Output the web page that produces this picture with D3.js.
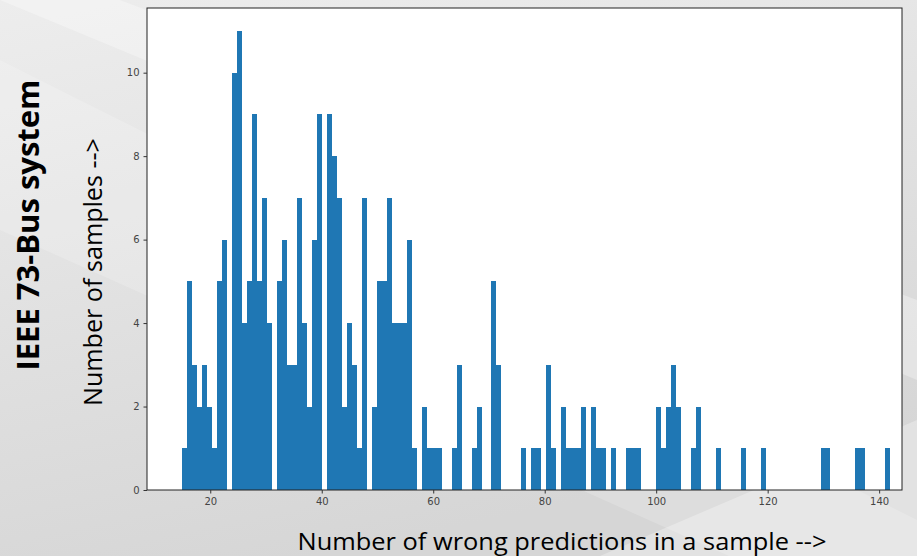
<!DOCTYPE html>
<html>
<head>
<meta charset="utf-8">
<script src="https://cdn.jsdelivr.net/npm/d3@7"></script>
<style>
  body { margin: 0; overflow: hidden; }
  svg { display: block; }
</style>
</head>
<body>
<div id="chart"></div>
<script>
// number of wrong predictions (first value) and how many samples had each count
const firstWrong = 15;
const sampleCounts = [
  1, 5, 3, 2, 3, 2, 1, 5, 6, 10,   // 15-24
  11, 4, 5, 9, 5, 7, 4, 5, 6, 3,   // 25-34
  3, 7, 4, 2, 6, 9, 9, 8, 7, 2,    // 35-44
  4, 3, 1, 7, 2, 5, 5, 7, 4, 4,    // 45-54
  4, 6, 1, 2, 1, 1, 1, 0, 0, 1,    // 55-64
  3, 0, 1, 2, 0, 0, 5, 3, 0, 0,    // 65-74
  0, 1, 0, 1, 1, 0, 3, 1, 2, 1,    // 75-84
  1, 1, 2, 0, 2, 1, 1, 1, 0, 0,    // 85-94
  1, 1, 1, 0, 0, 2, 1, 2, 3, 2,    // 95-104
  0, 0, 1, 2, 0, 0, 1, 0, 0, 0,    // 105-114
  0, 1, 0, 0, 1, 0, 0, 0, 0, 0,    // 115-124
  0, 0, 0, 0, 0, 1, 1, 0, 0, 0,    // 125-134
  0, 1, 1, 0, 0, 0, 0, 1           // 135-142
];
const binCount = 142;
const xTicks = [20, 40, 60, 80, 100, 120, 140];
const yTicks = [0, 2, 4, 6, 8, 10];

const width = 917, height = 556;
const plot = {left: 147, right: 902, top: 8, bottom: 490};

const svg = d3.select('#chart').append('svg')
  .attr('width', width)
  .attr('height', height);

// slide background
const defs = svg.append('defs');
const bg = defs.append('linearGradient')
  .attr('id', 'bg')
  .attr('x1', '0').attr('y1', '0')
  .attr('x2', '0.35').attr('y2', '1');
bg.append('stop').attr('offset', '0%').attr('stop-color', '#ededed');
bg.append('stop').attr('offset', '100%').attr('stop-color', '#d6d6d6');

svg.append('rect')
  .attr('width', width)
  .attr('height', height)
  .attr('fill', 'url(#bg)');

const bands = [
  [[0, 0], [120, 0], [917, 300], [917, 380]],
  [[0, 60], [0, 230], [917, 640], [917, 520]],
  [[600, 556], [917, 420], [917, 556]]
];
svg.selectAll('.band').data(bands).join('polygon')
  .attr('class', 'band')
  .attr('points', d => d.map(p => p.join(',')).join(' '))
  .attr('fill', '#ffffff')
  .attr('opacity', (d, i) => i === 1 ? 0.18 : 0.3);

// histogram, same binning as the original plt.hist call
const samples = [];
sampleCounts.forEach((c, i) => {
  for (let k = 0; k < c; k++) samples.push(firstWrong + i);
});
const lo = firstWrong, hi = firstWrong + sampleCounts.length - 1;
const binWidth = (hi - lo) / binCount;
const bins = d3.bin()
  .domain([lo, hi])
  .thresholds(d3.range(1, binCount).map(i => lo + i * binWidth))(samples);

const x = d3.scaleLinear()
  .domain([lo - 0.05 * (hi - lo), 144.1])
  .range([plot.left, plot.right]);
const y = d3.scaleLinear()
  .domain([0, 11 * 1.05])
  .range([plot.bottom, plot.top]);

const g = svg.append('g');

g.append('rect')
  .attr('x', plot.left)
  .attr('y', plot.top)
  .attr('width', plot.right - plot.left)
  .attr('height', plot.bottom - plot.top)
  .attr('fill', '#ffffff');

// crisp edges so neighbouring bins join without seams
g.selectAll('.bar')
  .data(bins.filter(b => b.length > 0))
  .join('rect')
  .attr('class', 'bar')
  .attr('x', d => x(d.x0))
  .attr('y', d => y(d.length))
  .attr('width', d => x(d.x1) - x(d.x0))
  .attr('height', d => y(0) - y(d.length))
  .attr('fill', '#1f77b4')
  .attr('shape-rendering', 'crispEdges');

// frame
g.append('rect')
  .attr('x', plot.left)
  .attr('y', plot.top)
  .attr('width', plot.right - plot.left)
  .attr('height', plot.bottom - plot.top)
  .attr('fill', 'none')
  .attr('stroke', '#222')
  .attr('stroke-width', 1);

const xAxis = g.append('g')
  .attr('transform', 'translate(0,' + plot.bottom + ')')
  .call(d3.axisBottom(x).tickValues(xTicks).tickSize(3.5).tickPadding(4));
const yAxis = g.append('g')
  .attr('transform', 'translate(' + plot.left + ',0)')
  .call(d3.axisLeft(y).tickValues(yTicks).tickSize(3.5).tickPadding(4));

[xAxis, yAxis].forEach(a => {
  a.select('.domain').remove();
  a.selectAll('line').attr('stroke', '#333');
  a.selectAll('text')
    .attr('fill', '#444')
    .style('font-family', '"DejaVu Sans", sans-serif')
    .style('font-size', '10px');
});

// slide texts
svg.append('text')
  .attr('transform', 'translate(39,225) rotate(-90)')
  .attr('text-anchor', 'middle')
  .attr('textLength', 291)
  .attr('lengthAdjust', 'spacingAndGlyphs')
  .style('font-family', '"Open Sans", sans-serif')
  .style('font-weight', 'bold')
  .style('font-size', '30px')
  .attr('fill', '#000')
  .text('IEEE 73-Bus system');

svg.append('text')
  .attr('transform', 'translate(102,272) rotate(-90)')
  .attr('text-anchor', 'middle')
  .attr('textLength', 268)
  .attr('lengthAdjust', 'spacingAndGlyphs')
  .style('font-family', '"Open Sans", sans-serif')
  .style('font-size', '25px')
  .attr('fill', '#000')
  .text('Number of samples -->');

svg.append('text')
  .attr('x', 562)
  .attr('y', 550)
  .attr('text-anchor', 'middle')
  .attr('textLength', 529)
  .attr('lengthAdjust', 'spacingAndGlyphs')
  .style('font-family', '"Open Sans", sans-serif')
  .style('font-size', '24px')
  .attr('fill', '#000')
  .text('Number of wrong predictions in a sample -->');
</script>
</body>
</html>
